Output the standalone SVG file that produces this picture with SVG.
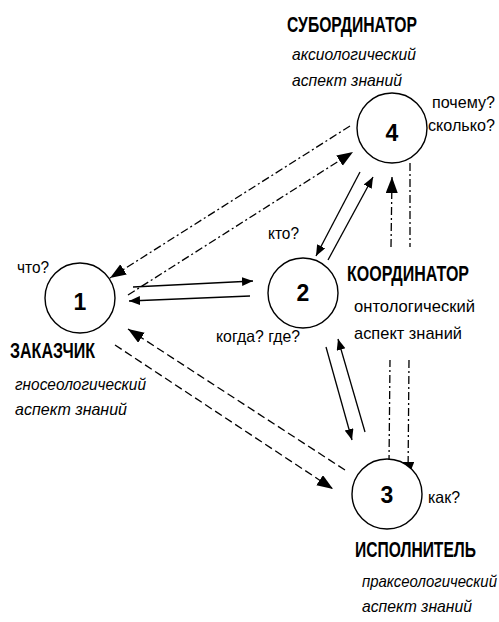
<svg xmlns="http://www.w3.org/2000/svg" width="499" height="622" viewBox="0 0 499 622">
<style>
.node circle{fill:#fff;stroke:#000;stroke-width:1.4}
.t{font-family:"Liberation Sans Narrow","Liberation Sans",Arial,sans-serif;fill:#000}
.num{font-size:23px;font-weight:bold;text-anchor:middle}
.hd{font-size:22px;font-weight:bold}
.q{font-size:16.5px}
.it{font-size:17px;font-style:italic}
.rg{font-size:17px}
.c line{stroke:#000;stroke-width:1.3;fill:none}
.dd{stroke-dasharray:8 3 2 3}
.da{stroke-dasharray:8 4}
</style>
<defs>
<marker id="sm" markerUnits="userSpaceOnUse" markerWidth="12" markerHeight="10" refX="11" refY="4.5" orient="auto"><path d="M0,0 L11,4.5 L0,9 z" fill="#000"/></marker>
<marker id="bg" markerUnits="userSpaceOnUse" markerWidth="17" markerHeight="13" refX="16" refY="6" orient="auto"><path d="M0,0 L16,6 L0,12 z" fill="#000"/></marker>
</defs>
<g id="connectors" class="c">
<line x1="133" y1="287" x2="253" y2="281" marker-end="url(#sm)"/>
<line x1="250" y1="296" x2="129" y2="301" marker-end="url(#sm)"/>
<line class="dd" x1="350" y1="126" x2="110" y2="278" marker-end="url(#bg)"/>
<line class="dd" x1="128" y1="295" x2="353" y2="152" marker-end="url(#bg)"/>
<line x1="360" y1="172" x2="316" y2="256" marker-end="url(#sm)"/>
<line x1="328" y1="260" x2="373" y2="177" marker-end="url(#sm)"/>
<line class="dd" x1="389" y1="463" x2="390" y2="360"/>
<line class="dd" x1="391" y1="247" x2="392" y2="177" marker-end="url(#bg)"/>
<line class="dd" x1="410" y1="163" x2="410" y2="247"/>
<line class="dd" x1="409" y1="360" x2="408" y2="478" marker-end="url(#bg)"/>
<line x1="326" y1="347" x2="352" y2="440" marker-end="url(#sm)"/>
<line x1="365" y1="432" x2="338" y2="339" marker-end="url(#sm)"/>
<line class="da" x1="345" y1="470" x2="128" y2="329" marker-end="url(#bg)"/>
<line class="da" x1="115" y1="345" x2="333" y2="489" marker-end="url(#bg)"/>
</g>
<g id="node1" class="node">
<circle cx="80" cy="298" r="35"/>
<text class="t num" x="80" y="310">1</text>
<text class="t q" x="17" y="273" textLength="32" lengthAdjust="spacingAndGlyphs">что?</text>
<text class="t hd" x="10" y="358" textLength="85" lengthAdjust="spacingAndGlyphs">ЗАКАЗЧИК</text>
<text class="t it" x="15" y="390" textLength="131" lengthAdjust="spacingAndGlyphs">гносеологический</text>
<text class="t it" x="15" y="415" textLength="112" lengthAdjust="spacingAndGlyphs">аспект знаний</text>
</g>
<g id="node2" class="node">
<circle cx="303" cy="293" r="35"/>
<text class="t num" x="303" y="301">2</text>
<text class="t q" x="268" y="239" textLength="31" lengthAdjust="spacingAndGlyphs">кто?</text>
<text class="t q" x="216" y="342" textLength="84" lengthAdjust="spacingAndGlyphs">когда? где?</text>
<text class="t hd" transform="translate(347,281) scale(0.75,1)" x="0" y="0" textLength="162.7" lengthAdjust="spacingAndGlyphs">КООРДИНАТОР</text>
<text class="t rg" x="354" y="312" textLength="121" lengthAdjust="spacingAndGlyphs">онтологический</text>
<text class="t rg" x="354" y="339" textLength="108" lengthAdjust="spacingAndGlyphs">аспект знаний</text>
</g>
<g id="node3" class="node">
<circle cx="387" cy="494" r="35"/>
<text class="t num" x="387" y="503">3</text>
<text class="t q" x="428" y="503" textLength="32" lengthAdjust="spacingAndGlyphs">как?</text>
<text class="t hd" transform="translate(355,557) scale(0.75,1)" x="0" y="0" textLength="161.3" lengthAdjust="spacingAndGlyphs">ИСПОЛНИТЕЛЬ</text>
<text class="t it" transform="translate(362,587) scale(0.75,1)" x="0" y="0" textLength="180" lengthAdjust="spacingAndGlyphs">праксеологический</text>
<text class="t it" x="362" y="612" textLength="110" lengthAdjust="spacingAndGlyphs">аспект знаний</text>
</g>
<g id="node4" class="node">
<circle cx="392" cy="128" r="35"/>
<text class="t num" x="392" y="141">4</text>
<text class="t hd" x="287" y="32" textLength="130" lengthAdjust="spacingAndGlyphs">СУБОРДИНАТОР</text>
<text class="t it" x="292" y="60" textLength="124" lengthAdjust="spacingAndGlyphs">аксиологический</text>
<text class="t it" x="292" y="86" textLength="110" lengthAdjust="spacingAndGlyphs">аспект знаний</text>
<text class="t q" x="432" y="108" textLength="63" lengthAdjust="spacingAndGlyphs">почему?</text>
<text class="t q" x="428" y="131" textLength="67" lengthAdjust="spacingAndGlyphs">сколько?</text>
</g>
</svg>
